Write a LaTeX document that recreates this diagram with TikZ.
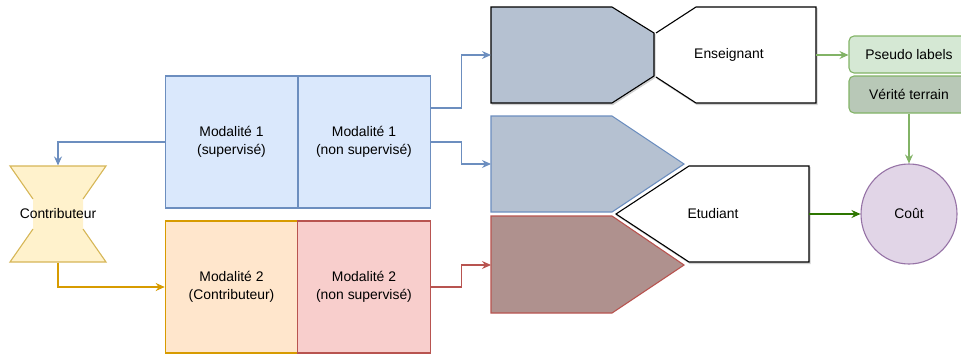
\documentclass[tikz,border=0pt]{standalone}
\usepackage{fontspec}
\setmainfont{Liberation Sans}
\usetikzlibrary{arrows.meta,calc,shapes.geometric}

\definecolor{blueFill}{HTML}{DAE8FC}
\definecolor{blueLine}{HTML}{6C8EBF}
\definecolor{orangeFill}{HTML}{FFE6CC}
\definecolor{orangeLine}{HTML}{D79B00}
\definecolor{redFill}{HTML}{F8CECC}
\definecolor{redLine}{HTML}{B85450}
\definecolor{yellowFill}{HTML}{FFF2CC}
\definecolor{yellowLine}{HTML}{D6B656}
\definecolor{slateFill}{HTML}{B5C1D1}
\definecolor{brownFill}{HTML}{AF918E}
\definecolor{greenFill}{HTML}{D5E8D4}
\definecolor{greenDark}{HTML}{B8C8B7}
\definecolor{greenLine}{HTML}{82B366}
\definecolor{deepGreen}{HTML}{2D7600}
\definecolor{purpleFill}{HTML}{E1D5E7}
\definecolor{purpleLine}{HTML}{9673A6}

\tikzset{
  every path/.style={line width=1.1pt},
  tip/.style={-{Stealth[length=9pt,width=8pt,inset=3pt]}},
  modbox/.style={draw, rectangle, inner sep=0pt, minimum width=132.5pt,
    minimum height=132pt, align=center},
  labelbox/.style={draw=greenLine, rectangle, rounded corners=5pt, inner sep=0pt,
    minimum width=120pt, minimum height=37pt},
  shadowed/.style={draw=black!18, fill=black!18, line width=1pt},
}

\begin{document}
\begin{tikzpicture}[x=1pt, y=-1pt, font=\fontsize{13.9}{18.5}\selectfont]
\useasboundingbox (0,0) rectangle (961,356);

% four modality boxes
\node[modbox, fill=blueFill, draw=blueLine] (m1s) at (231.5,142) {Modalité 1\\(supervisé)};
\node[modbox, fill=blueFill, draw=blueLine] (m1n) at (364,142) {Modalité 1\\(non supervisé)};
\node[modbox, fill=orangeFill, draw=orangeLine] (m2c) at (231.5,287) {Modalité 2\\(Contributeur)};
\node[modbox, fill=redFill, draw=redLine] (m2n) at (364,287) {Modalité 2\\(non supervisé)};
\draw[blueLine] (298,76) -- (298,208);

% contributor hourglass (label background hides the waist edges)
\fill[yellowFill] (10,166) -- (106,166) -- (83,199) -- (83,229) -- (106,262)
  -- (10,262) -- (33,229) -- (33,199) -- cycle;
\draw[yellowLine, line join=miter] (33,199) -- (10,166) -- (106,166) -- (83,199);
\draw[yellowLine, line join=miter] (33,229) -- (10,262) -- (106,262) -- (83,229);
\node[minimum width=96pt, minimum height=96pt, inner sep=0pt] (contrib) at (58,214) {Contributeur};

% drop shadows
\begin{scope}[shift={(1,1.5)}]
  \filldraw[shadowed] (491,7) -- (612,7) -- (654,33) -- (654,76) -- (612,103) -- (491,103) -- cycle;
  \filldraw[shadowed] (656,33) -- (696,7) -- (816,7) -- (816,103) -- (696,103) -- (656,77) -- cycle;
  \filldraw[shadowed] (689,166) -- (809,166) -- (809,262) -- (689,262) -- (616,214) -- cycle;
\end{scope}

% encoder shapes
\draw[fill=slateFill, line join=miter] (491,7) -- (612,7) -- (654,33) -- (654,76)
  -- (612,103) -- (491,103) -- cycle;
\draw[fill=slateFill, draw=blueLine, line join=miter] (491,116) -- (612,116) -- (684,164)
  -- (612,212) -- (491,212) -- cycle;
\draw[fill=brownFill, draw=redLine, line join=miter] (491,216) -- (612,216) -- (684,265)
  -- (612,313) -- (491,313) -- cycle;
\coordinate (enc1) at (491,55);
\coordinate (enc2) at (491,164);
\coordinate (enc3) at (491,265);

% teacher
\fill[white] (656,33) -- (696,7) -- (816,7) -- (816,103) -- (696,103) -- (656,77) -- cycle;
\draw[line join=miter] (656,33) -- (696,7) -- (816,7) -- (816,103) -- (696,103) -- (656,77);
\node (ens) at (729,55) {Enseignant};
\coordinate (ensE) at (816,55);

% student
\draw[fill=white, line join=miter] (689,166) -- (809,166) -- (809,262) -- (689,262) -- (616,214) -- cycle;
\node (etu) at (713,214) {Etudiant};
\coordinate (etuE) at (809,214);

% labels and loss
\node[labelbox, fill=greenFill] (pseudo) at (909,54.5) {Pseudo labels};
\node[labelbox, fill=greenDark] (verite) at (909,94.5) {Vérité terrain};
\node[draw=purpleLine, fill=purpleFill, ellipse, inner sep=0pt, minimum width=96pt,
  minimum height=100pt] (cout) at (909,214) {Coût};

% connectors
\draw[blueLine, tip] ([yshift=34pt]m1n.east) -- ([yshift=34pt, xshift=31pt]m1n.east) |- (enc1);
\draw[blueLine, tip] (m1n.east) -- ([xshift=31pt]m1n.east) |- (enc2);
\draw[redLine, tip] (m2n.east) -- ([xshift=31pt]m2n.east) |- (enc3);
\draw[blueLine, tip] (m1s.west) -| (contrib.north);
\draw[orangeLine, tip] (contrib.south) |- (m2c.west);
\draw[greenLine, tip] (ensE) -- (ensE -| pseudo.west);
\draw[greenLine, tip] (verite.south) -- (cout.north);
\draw[deepGreen, tip] (etuE) -- (cout.west);
\end{tikzpicture}
\end{document}
